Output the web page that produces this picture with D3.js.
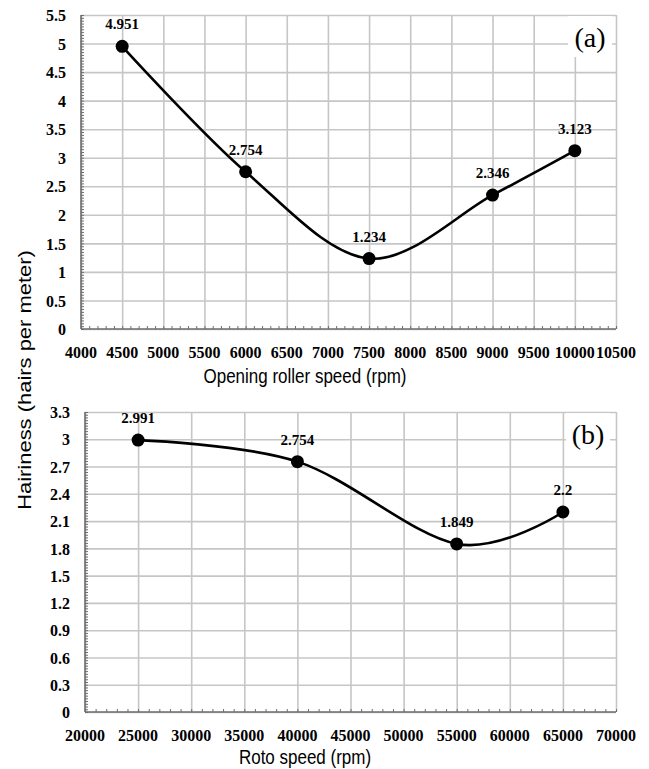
<!DOCTYPE html>
<html>
<head>
<meta charset="utf-8">
<script src="https://cdn.jsdelivr.net/npm/d3@7"></script>
<style>
  body { margin: 0; background: #fff; }
  svg { display: block; }
</style>
</head>
<body>
<svg id="chart" width="649" height="769"></svg>
<script>
// panel (a): opening roller speed
var rollerSpeed = [4500, 6000, 7500, 9000, 10000];
var hairinessA = [4.951, 2.754, 1.234, 2.346, 3.123];
var xTicksA = [4000, 4500, 5000, 5500, 6000, 6500, 7000, 7500, 8000, 8500, 9000, 9500, 10000, 10500];
var yTicksA = [0, 0.5, 1, 1.5, 2, 2.5, 3, 3.5, 4, 4.5, 5, 5.5];

// panel (b): rotor speed
var rotorSpeed = [25000, 40000, 55000, 65000];
var hairinessB = [2.991, 2.754, 1.849, 2.2];
var xTicksB = [20000, 25000, 30000, 35000, 40000, 45000, 50000, 55000, 60000, 65000, 70000];
var yTicksB = [0, 0.3, 0.6, 0.9, 1.2, 1.5, 1.8, 2.1, 2.4, 2.7, 3, 3.3];

var svg = d3.select("#chart");
var serif = "'Liberation Serif', 'DejaVu Serif', serif";
var sans = "'Liberation Sans', Arial, sans-serif";

var drawPanel = function (cfg) {
    var x = d3.scaleLinear()
        .domain([cfg.xTicks[0], cfg.xTicks[cfg.xTicks.length - 1]])
        .range([cfg.left, cfg.right]);
    var y = d3.scaleLinear()
        .domain([0, cfg.yTicks[cfg.yTicks.length - 1]])
        .range([cfg.bottom, cfg.top]);
    var g = svg.append("g");

    // grid
    g.append("g")
        .attr("transform", "translate(0," + cfg.bottom + ")")
        .call(d3.axisBottom(x).tickValues(cfg.xTicks).tickSize(-(cfg.bottom - cfg.top)).tickFormat(""))
        .call(function (s) { s.select(".domain").remove(); })
        .selectAll("line").attr("stroke", "#c6c6c6").attr("stroke-width", 1.6);
    g.append("g")
        .attr("transform", "translate(" + cfg.left + ",0)")
        .call(d3.axisLeft(y).tickValues(cfg.yTicks).tickSize(-(cfg.right - cfg.left)).tickFormat(""))
        .call(function (s) { s.select(".domain").remove(); })
        .selectAll("line").attr("stroke", "#c6c6c6").attr("stroke-width", 1.6);

    // minor ticks (inside)
    var xStep = (cfg.xTicks[1] - cfg.xTicks[0]) / cfg.xMinor;
    var yStep = (cfg.yTicks[1] - cfg.yTicks[0]) / cfg.yMinor;
    var xMinorVals = d3.range(cfg.xTicks[0], cfg.xTicks[cfg.xTicks.length - 1] + xStep / 2, xStep);
    var yMinorVals = d3.range(0, cfg.yTicks[cfg.yTicks.length - 1] + yStep / 2, yStep);
    g.append("g")
        .attr("transform", "translate(0," + cfg.bottom + ")")
        .call(d3.axisTop(x).tickValues(xMinorVals).tickSize(3).tickFormat(""))
        .call(function (s) { s.select(".domain").remove(); })
        .selectAll("line").attr("stroke", "#6e6e6e").attr("stroke-width", 1);
    g.append("g")
        .attr("transform", "translate(" + cfg.left + ",0)")
        .call(d3.axisRight(y).tickValues(yMinorVals).tickSize(3).tickFormat(""))
        .call(function (s) { s.select(".domain").remove(); })
        .selectAll("line").attr("stroke", "#6e6e6e").attr("stroke-width", 1);

    // axis lines
    g.append("line")
        .attr("x1", cfg.left).attr("x2", cfg.left)
        .attr("y1", cfg.top).attr("y2", cfg.bottom)
        .attr("stroke", "#6e6e6e").attr("stroke-width", 1.6);
    g.append("line")
        .attr("x1", cfg.left).attr("x2", cfg.right)
        .attr("y1", cfg.bottom).attr("y2", cfg.bottom)
        .attr("stroke", "#6e6e6e").attr("stroke-width", 1.6);

    // tick labels
    g.append("g")
        .selectAll("text")
        .data(cfg.xTicks)
        .join("text")
        .attr("transform", function (d) { return "translate(" + x(d) + "," + (cfg.bottom + 29) + ") scale(1,1.1)"; })
        .attr("text-anchor", "middle")
        .style("font", "bold 16px " + serif)
        .text(function (d) { return d; });
    g.append("g")
        .selectAll("text")
        .data(cfg.yTicks)
        .join("text")
        .attr("transform", function (d) { return "translate(" + (cfg.left - 15) + "," + y(d) + ") scale(1,1.1)"; })
        .attr("dy", "0.35em")
        .attr("text-anchor", "end")
        .style("font", "bold 16px " + serif)
        .text(function (d) { return d; });

    // axis title
    g.append("text")
        .attr("transform", "translate(305," + cfg.titleY + ") scale(1,1.2)")
        .attr("text-anchor", "middle")
        .style("font", "17px " + sans)
        .text(cfg.title);

    // panel tag
    g.append("rect")
        .attr("x", cfg.tagX - 22).attr("y", cfg.tagY - 21)
        .attr("width", 44).attr("height", 41)
        .attr("fill", "#fff");
    g.append("text")
        .attr("x", cfg.tagX).attr("y", cfg.tagY)
        .attr("dy", "0.35em")
        .attr("text-anchor", "middle")
        .style("font", "28px " + serif)
        .text(cfg.tag);

    // series
    var pts = cfg.xs.map(function (d, i) { return [d, cfg.ys[i]]; });
    var line = d3.line()
        .x(function (d) { return x(d[0]); })
        .y(function (d) { return y(d[1]); })
        .curve(d3.curveCardinal.tension(0));
    g.append("path")
        .datum(pts)
        .attr("fill", "none")
        .attr("stroke", "#000")
        .attr("stroke-width", 2.6)
        .attr("d", line);
    g.append("g")
        .selectAll("circle")
        .data(pts)
        .join("circle")
        .attr("cx", function (d) { return x(d[0]); })
        .attr("cy", function (d) { return y(d[1]); })
        .attr("r", 6.5)
        .attr("fill", "#000");
    g.append("g")
        .selectAll("text")
        .data(pts)
        .join("text")
        .attr("x", function (d) { return x(d[0]); })
        .attr("y", function (d) { return y(d[1]) - 17; })
        .attr("text-anchor", "middle")
        .style("font", "bold 15px " + serif)
        .text(function (d) { return d[1]; });
};

drawPanel({
    xs: rollerSpeed, ys: hairinessA, xTicks: xTicksA, yTicks: yTicksA,
    left: 81, right: 616, top: 15, bottom: 329,
    xMinor: 5, yMinor: 10,
    title: "Opening roller speed (rpm)", titleY: 383,
    tag: "(a)", tagX: 590, tagY: 37
});

drawPanel({
    xs: rotorSpeed, ys: hairinessB, xTicks: xTicksB, yTicks: yTicksB,
    left: 85, right: 616, top: 412, bottom: 712,
    xMinor: 5, yMinor: 10,
    title: "Roto speed (rpm)", titleY: 764,
    tag: "(b)", tagX: 588, tagY: 434
});

// shared y title
svg.append("text")
    .attr("transform", "translate(31,380) rotate(-90) scale(1.22,1)")
    .attr("text-anchor", "middle")
    .style("font", "18px " + sans)
    .text("Hairiness (hairs per meter)");
</script>
</body>
</html>
